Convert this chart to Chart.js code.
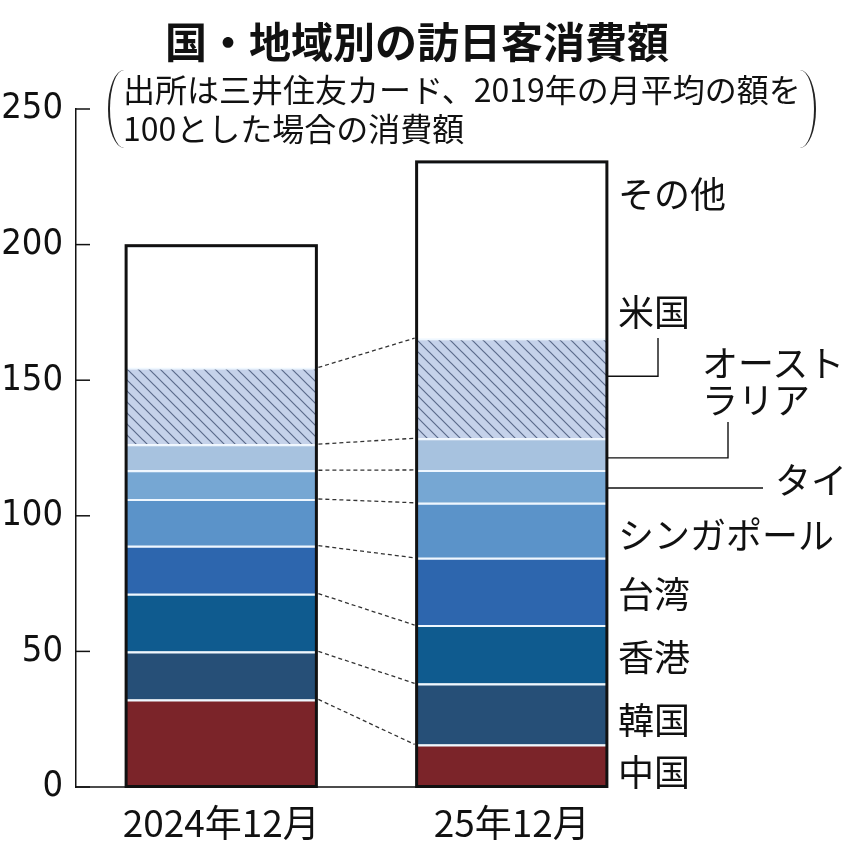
<!DOCTYPE html>
<html lang="ja">
<head>
<meta charset="utf-8">
<script src="https://cdn.jsdelivr.net/npm/chart.js@4.4.1/dist/chart.umd.min.js"></script>
<style>
  body { margin: 0; background: #fff; }
  #wrap { position: relative; width: 850px; height: 850px; font-family: "Noto Sans CJK JP", sans-serif; color: #111; }
  #wrap canvas { position: absolute; left: 0; top: 0; }
  .txt { position: absolute; line-height: 1; white-space: nowrap; transform: translateY(-50%); }
  .title { font-size: 42px; font-weight: 700; }
  .sub { font-size: 32px; }
  .lbl { font-size: 36px; }
  .paren { position: absolute; width: 14px; height: 78px; border: 0 solid #222; }
</style>
</head>
<body>
<div id="wrap">
  <canvas id="chart" width="850" height="850"></canvas>
  <div class="txt title" style="left:165px; top:40px;">国・地域別の訪日客消費額</div>
  <div class="paren" style="left:108px; top:70px; border-left-width:2px; border-radius:100% 0 0 100% / 50% 0 0 50%;"></div>
  <div class="paren" style="left:800px; top:70px; border-right-width:2px; border-radius:0 100% 100% 0 / 0 50% 50% 0;"></div>
  <div class="txt sub" style="left:123px; top:88px;">出所は三井住友カード、2019年の月平均の額を</div>
  <div class="txt sub" style="left:123px; top:127px;">100とした場合の消費額</div>
  <div class="txt lbl" style="left:618px; top:192px;">その他</div>
  <div class="txt lbl" style="left:618px; top:310px;">米国</div>
  <div class="txt lbl" style="left:702px; top:361px;">オースト</div>
  <div class="txt lbl" style="left:702px; top:398px;">ラリア</div>
  <div class="txt lbl" style="left:775px; top:478px;">タイ</div>
  <div class="txt lbl" style="left:618px; top:533px;">シンガポール</div>
  <div class="txt lbl" style="left:618px; top:592px;">台湾</div>
  <div class="txt lbl" style="left:618px; top:655px;">香港</div>
  <div class="txt lbl" style="left:618px; top:718px;">韓国</div>
  <div class="txt lbl" style="left:618px; top:770px;">中国</div>
</div>
<script>
// data (index = 100 for the 2019 monthly average)
const periods = ['2024年12月', '25年12月'];
const regions = ['中国', '韓国', '香港', '台湾', 'シンガポール', 'タイ', 'オーストラリア', '米国', 'その他'];
const dec2024 = [32.3, 17.7, 21.3, 17.7, 17.2, 10.6, 9.6, 28.3, 44.9];
const dec2025 = [15.7, 22.5, 21.5, 24.8, 20.3, 12.1, 11.7, 36.9, 65.0];
const yTicks = [0, 50, 100, 150, 200, 250];

const colors = ['#7b2429', '#264f77', '#0f5b8f', '#2d66ae', '#5b93c9', '#76a7d3', '#a7c2df', 'hatch', '#ffffff'];

// diagonal hatch used for the US segment
function hatchPattern() {
    const c = document.createElement('canvas');
    c.width = 11; c.height = 11;
    const g = c.getContext('2d');
    g.fillStyle = '#c5d2ea';
    g.fillRect(0, 0, 11, 11);
    g.strokeStyle = '#5b6a8a';
    g.lineWidth = 1.2;
    g.beginPath();
    g.moveTo(0, 0); g.lineTo(11, 11);
    g.moveTo(-2, 9); g.lineTo(2, 13);
    g.moveTo(9, -2); g.lineTo(13, 2);
    g.stroke();
    return g.createPattern(c, 'repeat');
}

const ctx = document.getElementById('chart').getContext('2d');

// connectors, outlines, baseline, inward ticks and leader lines
const decorations = {
    id: 'decorations',
    afterDatasetsDraw(chart) {
        const g = chart.ctx;
        const metas = regions.map((r, i) => chart.getDatasetMeta(i));
        const y = chart.scales.y;
        const area = chart.chartArea;
        g.save();

        // dashed lines between the two bars
        g.strokeStyle = '#333';
        g.lineWidth = 1.3;
        g.setLineDash([4, 3]);
        for (let i = 0; i < regions.length - 1; i++) {
            const a = metas[i].data[0], b = metas[i].data[1];
            g.beginPath();
            g.moveTo(a.x + a.width / 2 + 2, a.y);
            g.lineTo(b.x - b.width / 2 - 2, b.y);
            g.stroke();
        }
        g.setLineDash([]);

        // outline around each stack
        g.strokeStyle = '#111';
        g.lineWidth = 3;
        const last = metas[regions.length - 1];
        for (let j = 0; j < periods.length; j++) {
            const top = last.data[j];
            const bottom = metas[0].data[j];
            g.strokeRect(top.x - top.width / 2, top.y, top.width, bottom.base - top.y);
        }

        // baseline up to the right edge of the second bar
        const b2 = metas[0].data[1];
        g.lineWidth = 1.5;
        g.beginPath();
        g.moveTo(area.left, y.getPixelForValue(0));
        g.lineTo(b2.x + b2.width / 2, y.getPixelForValue(0));
        g.stroke();

        // ticks pointing into the plot
        yTicks.forEach(v => {
            const py = y.getPixelForValue(v);
            g.beginPath();
            g.moveTo(area.left, py);
            g.lineTo(area.left + 14, py);
            g.stroke();
        });

        // leader lines for the small labels on the right
        const edge = b2.x + b2.width / 2;
        const leaders = [
            { i: 7, f: 0.62, x: 658, up: 338 },
            { i: 6, f: 0.38, x: 728, up: 422 },
            { i: 5, f: 0.45, x: 763, up: null }
        ];
        g.lineWidth = 1.4;
        leaders.forEach(l => {
            const el = metas[l.i].data[1];
            const py = el.base + (el.y - el.base) * l.f;
            g.beginPath();
            g.moveTo(edge, py);
            g.lineTo(l.x, py);
            if (l.up !== null) g.lineTo(l.x, l.up);
            g.stroke();
        });

        g.restore();
    }
};

new Chart(ctx, {
    type: 'bar',
    data: {
        labels: periods,
        datasets: regions.map((r, i) => ({
            label: r,
            data: [dec2024[i], dec2025[i]],
            backgroundColor: colors[i] === 'hatch' ? hatchPattern() : colors[i],
            borderColor: '#eef7ff',
            borderWidth: { top: 2, right: 0, bottom: 0, left: 0 },
            borderSkipped: false,
            categoryPercentage: 1,
            barPercentage: 0.655
        }))
    },
    options: {
        responsive: false,
        animation: false,
        devicePixelRatio: 1,
        layout: { padding: { top: 109, right: 193, bottom: 0, left: 0 } },
        plugins: {
            legend: { display: false },
            tooltip: { enabled: false }
        },
        scales: {
            x: {
                stacked: true,
                grid: { display: false },
                border: { display: false },
                ticks: {
                    color: '#111',
                    padding: 6,
                    font: { family: '"Noto Sans CJK JP", sans-serif', size: 37 }
                },
                afterFit(scale) { scale.height = 63; }
            },
            y: {
                stacked: true,
                min: yTicks[0],
                max: yTicks[yTicks.length - 1],
                grid: { display: true, drawOnChartArea: false, drawTicks: false },
                border: { display: true, color: '#111', width: 1.5 },
                ticks: {
                    stepSize: yTicks[1] - yTicks[0],
                    color: '#111',
                    padding: 13,
                    font: { family: '"Liberation Sans Narrow", "DejaVu Sans Condensed", sans-serif', size: 36 }
                },
                afterFit(scale) { scale.width = 76; }
            }
        }
    },
    plugins: [decorations]
});
</script>
</body>
</html>
